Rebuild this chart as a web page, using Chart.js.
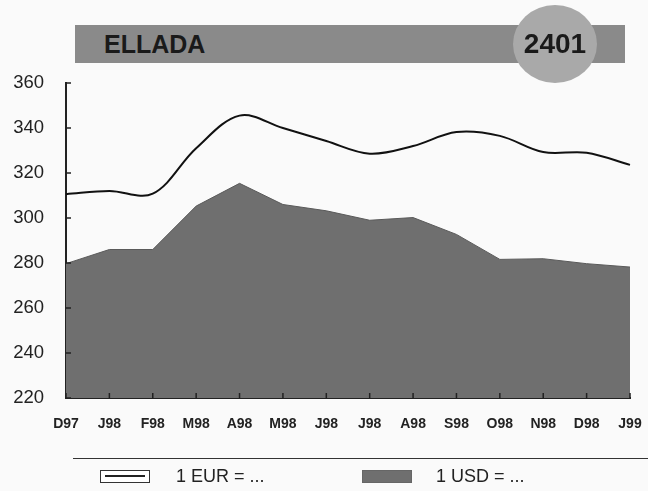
<!DOCTYPE html>
<html>
<head>
<meta charset="utf-8">
<script src="https://cdn.jsdelivr.net/npm/chart.js@4/dist/chart.umd.min.js"></script>
<style>
  body { margin: 0; background: #fafafa; font-family: "Liberation Sans", Arial, sans-serif; }
  #wrap { position: relative; width: 648px; height: 491px; overflow: hidden; }
  #bar { position: absolute; left: 75px; top: 25px; width: 550px; height: 38px; background: #8a8a8a; }
  #bar span { position: absolute; left: 29px; top: 5px; font-weight: bold; font-size: 25px; color: #1a1a1a; }
  #badge { position: absolute; left: 513px; top: 5px; width: 84px; height: 78px; border-radius: 50%; background: #a9a9a9;
           text-align: center; line-height: 78px; font-weight: bold; font-size: 28px; color: #1a1a1a; }
  #rule { position: absolute; left: 73px; right: 0; top: 458px; border-top: 1px solid #333; }
  .key { position: absolute; top: 466px; font-size: 18px; color: #222; }
  .sw { position: absolute; top: 470px; width: 48px; height: 11px; border: 1px solid #333; }
  #myChart { position: absolute; left: 0; top: 0; }
</style>
</head>
<body>
<div id="wrap">
  <canvas id="myChart" width="648" height="491"></canvas>
  <div id="bar"><span>ELLADA</span></div>
  <div id="badge">2401</div>
  <div id="rule"></div>
  <div class="sw" style="left:100px;background:#fff;"><div style="margin:4px 4px 0;border-top:2px solid #222;"></div></div>
  <div class="key" style="left:176px;">1 EUR = ...</div>
  <div class="sw" style="left:362px;background:#6f6f6f;border-color:#666;"></div>
  <div class="key" style="left:436px;">1 USD = ...</div>
</div>
<script>
const labels = ['D97', 'J98', 'F98', 'M98', 'A98', 'M98', 'J98', 'J98', 'A98', 'S98', 'O98', 'N98', 'D98', 'J99'];
const eur = [310.6, 312, 310.8, 331, 345.5, 340, 334.2, 328.6, 332, 338.2, 336.5, 329.3, 329, 323.6];
const usd = [279.7, 286, 286, 305.3, 315.4, 306, 303.2, 299, 300.2, 292.7, 281.6, 281.9, 279.7, 278.2];

// small inward ticks like the printed chart
const innerTicks = {
  id: 'innerTicks',
  afterDatasetsDraw(chart) {
    const c = chart.ctx, x = chart.scales.x, y = chart.scales.y;
    c.save();
    c.strokeStyle = '#222';
    c.lineWidth = 1.5;
    c.beginPath();
    x.ticks.forEach((t, i) => {
      const px = x.getPixelForTick(i);
      c.moveTo(px, y.bottom);
      c.lineTo(px, y.bottom - 5);
    });
    y.ticks.forEach((t, i) => {
      const py = y.getPixelForTick(i);
      c.moveTo(x.left, py);
      c.lineTo(x.left + 5, py);
    });
    c.stroke();
    c.restore();
  }
};

const ctx = document.getElementById('myChart').getContext('2d');
new Chart(ctx, {
  type: 'line',
  data: {
    labels: labels,
    datasets: [
      {
        label: '1 EUR = ...',
        data: eur,
        borderColor: '#111',
        borderWidth: 2,
        pointRadius: 0,
        tension: 0.35,
        fill: false,
      },
      {
        label: '1 USD = ...',
        data: usd,
        borderColor: '#5a5a5a',
        backgroundColor: '#6f6f6f',
        borderWidth: 1,
        pointRadius: 0,
        tension: 0,
        fill: 'start',
      },
    ],
  },
  options: {
    responsive: false,
    animation: false,
    layout: { padding: { top: 83, right: 18, bottom: 58, left: 0 } },
    plugins: { legend: { display: false }, tooltip: { enabled: false } },
    scales: {
      x: {
        offset: false,
        grid: { display: false },
        border: { display: true, color: '#222', width: 2 },
        ticks: { color: '#222', font: { family: 'Liberation Sans', size: 14, weight: 'bold' }, maxRotation: 0, autoSkip: false, padding: 10 },
        afterFit: s => { s.height = 35; s.paddingLeft = 0; s.paddingRight = 0; },
      },
      y: {
        min: 220,
        max: 360,
        grid: { display: false },
        border: { display: true, color: '#222', width: 2 },
        ticks: { stepSize: 20, color: '#222', font: { family: 'Liberation Sans', size: 18.5 }, padding: 14 },
        afterFit: s => { s.width = 66; s.paddingTop = 0; s.paddingBottom = 0; },
      },
    },
  },
  plugins: [innerTicks],
});
</script>
</body>
</html>
